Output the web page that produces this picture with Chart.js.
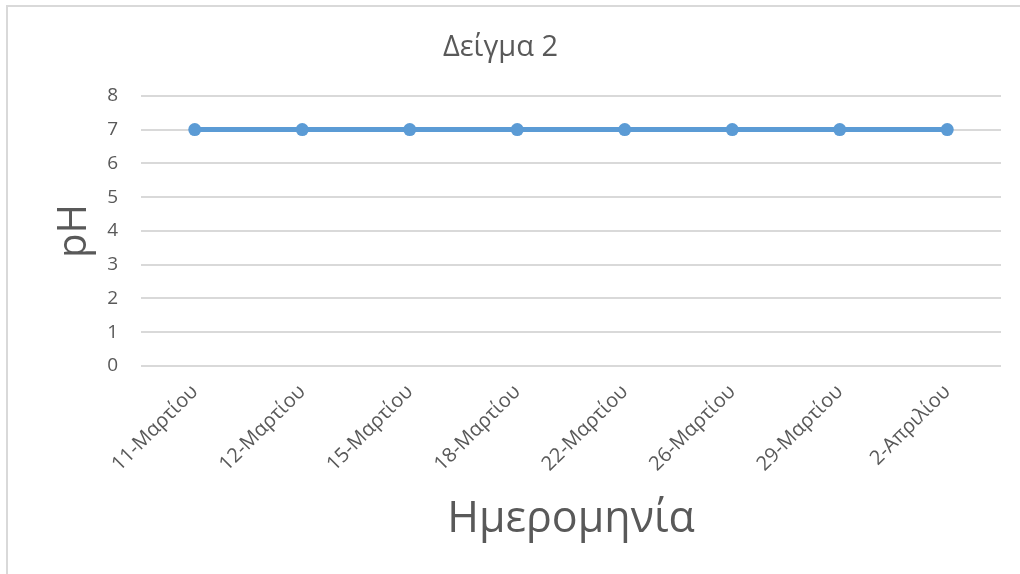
<!DOCTYPE html>
<html>
<head>
<meta charset="utf-8">
<script src="https://cdn.jsdelivr.net/npm/chart.js@4"></script>
<style>
  body { margin: 0; background: #fff; }
  #wrap { position: relative; width: 1020px; height: 574px; overflow: hidden; }
  #frame { position: absolute; left: 6px; top: 5px; width: 1100px; height: 700px; border: 2px solid #d9d9d9; box-sizing: border-box; pointer-events: none; }
</style>
</head>
<body>
<div id="wrap">
  <canvas id="ph-chart" width="1020" height="574"></canvas>
  <div id="frame"></div>
</div>
<script>
// pH measurements for sample 2
const dates = ["11-Μαρτίου", "12-Μαρτίου", "15-Μαρτίου", "18-Μαρτίου", "22-Μαρτίου", "26-Μαρτίου", "29-Μαρτίου", "2-Απριλίου"];
const phValues = [7, 7, 7, 7, 7, 7, 7, 7];
const yTicks = [0, 1, 2, 3, 4, 5, 6, 7, 8];

const fontFamily = "'Open Sans', 'DejaVu Sans', sans-serif";
const grey = "#595959";

let ctx = document.getElementById("ph-chart").getContext("2d");
let phChart = new Chart(ctx, {
  type: "line",
  data: {
    labels: dates,
    datasets: [
      {
        label: "pH",
        data: phValues,
        borderColor: "#5b9bd5",
        backgroundColor: "#5b9bd5",
        borderWidth: 5,
        pointRadius: 6.5,
        pointHoverRadius: 6.5,
        pointBorderWidth: 0,
        tension: 0
      }
    ]
  },
  options: {
    responsive: false,
    animation: false,
    layout: {
      padding: { left: 0, right: 19, top: 18, bottom: 20 }
    },
    plugins: {
      legend: { display: false },
      tooltip: { enabled: false },
      title: {
        display: true,
        text: "Δείγμα 2",
        color: grey,
        font: { family: fontFamily, size: 29, weight: "normal" },
        padding: { top: 12, bottom: 31 }
      }
    },
    scales: {
      x: {
        offset: true,
        grid: { display: false, drawTicks: false },
        border: { display: false },
        ticks: {
          color: grey,
          font: { family: fontFamily, size: 20 },
          minRotation: 45,
          maxRotation: 45,
          padding: 14
        },
        title: {
          display: true,
          text: "Ημερομηνία",
          color: grey,
          font: { family: fontFamily, size: 43 },
          padding: { top: 0, bottom: 8 }
        },
        // fixed height so the plot ends at the same place every time
        afterFit: function(axis) {
          axis.height = 188;
          axis.paddingLeft = 0;
          axis.paddingRight = 0;
        }
      },
      y: {
        min: 0,
        max: 8,
        afterBuildTicks: function(axis) {
          axis.ticks = yTicks.map(v => ({ value: v }));
        },
        grid: { color: "#d9d9d9", lineWidth: 2, drawTicks: false },
        border: { display: false },
        ticks: {
          color: grey,
          font: { family: fontFamily, size: 19 },
          padding: 23
        },
        title: {
          display: true,
          text: "pH",
          color: grey,
          font: { family: fontFamily, size: 40 },
          padding: { top: 51, bottom: 0 }
        },
        afterFit: function(axis) {
          axis.width = 141;
          axis.paddingTop = 0;
          axis.paddingBottom = 0;
        }
      }
    }
  }
});
</script>
</body>
</html>
